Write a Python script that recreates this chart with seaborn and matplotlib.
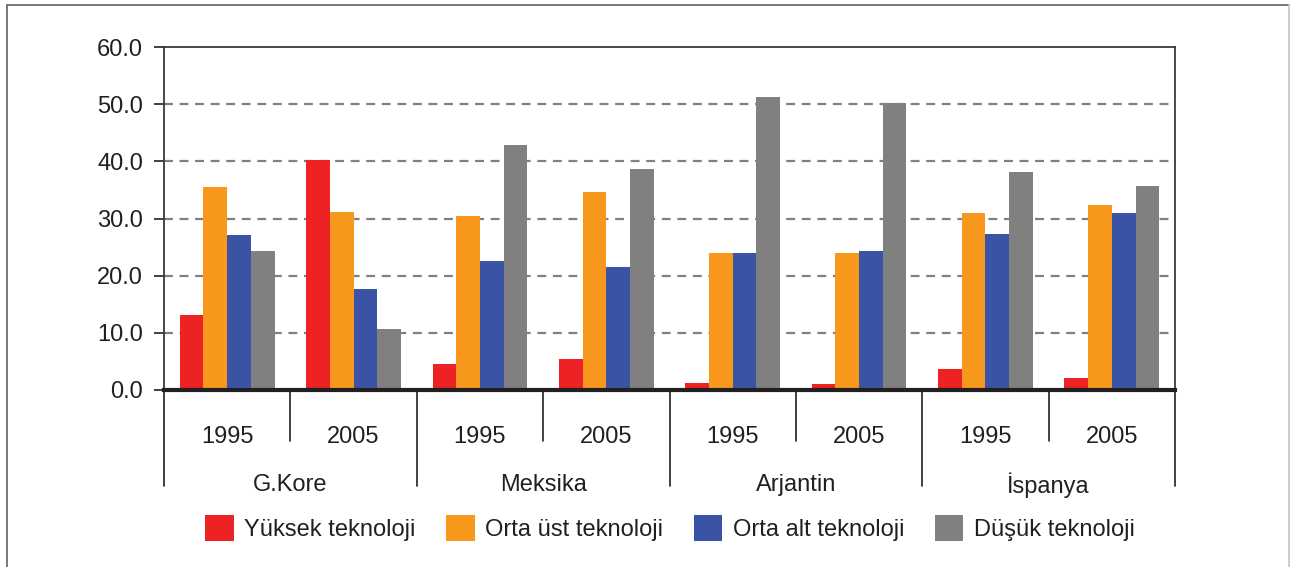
"""Teknoloji yoğunluğuna göre ihracat payları - gruplanmış çubuk grafik."""

import numpy as np
import pandas as pd
import seaborn as sns
import matplotlib.pyplot as plt
from matplotlib.patches import Patch
from matplotlib.lines import Line2D

###################################################################################################
###################################################################################################

countries = ["G.Kore", "Meksika", "Arjantin", "İspanya"]
years = ["1995", "2005"]
series = ["Yüksek teknoloji", "Orta üst teknoloji", "Orta alt teknoloji", "Düşük teknoloji"]

yuksek = [13.2, 40.3, 4.5, 5.5, 1.2, 1.1, 3.6, 2.1]
orta_ust = [35.5, 31.1, 30.4, 34.7, 24.0, 24.0, 30.9, 32.3]
orta_alt = [27.2, 17.6, 22.5, 21.6, 24.0, 24.4, 27.3, 30.9]
dusuk = [24.3, 10.7, 42.9, 38.6, 51.3, 50.2, 38.1, 35.6]

colors = ["#ED2224", "#F7981D", "#3A53A4", "#808080"]

###################################################################################################
###################################################################################################

slots = [c + " " + y for c in countries for y in years]
rows = []
for name, vals in zip(series, [yuksek, orta_ust, orta_alt, dusuk]):
    for slot, v in zip(slots, vals):
        rows.append({"slot": slot, "seri": name, "deger": v})
df = pd.DataFrame(rows)

sns.set_style("white")
plt.rcParams['font.family'] = ['Liberation Sans', 'DejaVu Sans']
FS = 17

fig = plt.figure(figsize=[12.91, 5.67], dpi=100)
ax = fig.add_axes([164 / 1291, 1 - 390 / 567, (1175 - 164) / 1291, (390 - 47) / 567])

sns.barplot(data=df, x="slot", y="deger", hue="seri", order=slots, hue_order=series,
            palette=colors, saturation=1, width=0.75, gap=0, ax=ax, legend=False,
            edgecolor="none")

ax.set_xlim(-0.5, len(slots) - 0.5)
ax.set_ylim(0, 60)
ax.set_yticks(np.arange(0, 61, 10))
ax.set_yticklabels([f"{v:.1f}" for v in np.arange(0, 61, 10)], fontsize=FS, color="#231f20")
ax.tick_params(axis="y", direction="out", length=7, width=1.2, pad=8, left=True, color="#231f20")
ax.set_xticks([])
ax.set_xlabel("")
ax.set_ylabel("")

# dashed grid lines
for v in range(10, 60, 10):
    ax.axhline(v, color="#808080", linestyle=(0, (4, 3)), linewidth=1.6, zorder=0)

for side in ["left", "top", "right"]:
    ax.spines[side].set_color("#3a3a3a")
    ax.spines[side].set_linewidth(1.3)
ax.spines["bottom"].set_color("#231f20")
ax.spines["bottom"].set_linewidth(3)
ax.spines["bottom"].set_zorder(5)

# multi-level category axis
trans = ax.get_xaxis_transform()
for i, slot in enumerate(slots):
    ax.text(i, -0.137, years[i % 2], transform=trans, ha="center", va="center",
            fontsize=FS, color="#231f20")
for j, c in enumerate(countries):
    ax.text(2 * j + 0.5, -0.277, c, transform=trans, ha="center", va="center",
            fontsize=FS, color="#231f20")
for x in [-0.5, 1.5, 3.5, 5.5, 7.5]:
    ax.plot([x, x], [0, -0.28], transform=trans, color="#231f20", linewidth=1.2, clip_on=False)
for x in [0.5, 2.5, 4.5, 6.5]:
    ax.plot([x, x], [0, -0.149], transform=trans, color="#231f20", linewidth=1.2, clip_on=False)

# legend
handles = [Patch(facecolor=c, edgecolor="none") for c in colors]
fig.legend(handles, series, loc="center", bbox_to_anchor=(670 / 1291, 1 - 528 / 567), ncol=4,
           frameon=False, fontsize=FS, handlelength=1.2, handleheight=1.3,
           handletextpad=0.45, columnspacing=1.3, labelcolor="#231f20")

# outer frame
fig.add_artist(Line2D([7 / 1291, 7 / 1291], [0, 1 - 5 / 567], color="#6d6d6d", linewidth=1.3))
fig.add_artist(Line2D([7 / 1291, 1289 / 1291], [1 - 5 / 567, 1 - 5 / 567], color="#6d6d6d", linewidth=1.3))
fig.add_artist(Line2D([1289 / 1291, 1289 / 1291], [0, 1 - 5 / 567], color="#c8c8c8", linewidth=1.3))

fig.savefig("out.png", dpi=100)
